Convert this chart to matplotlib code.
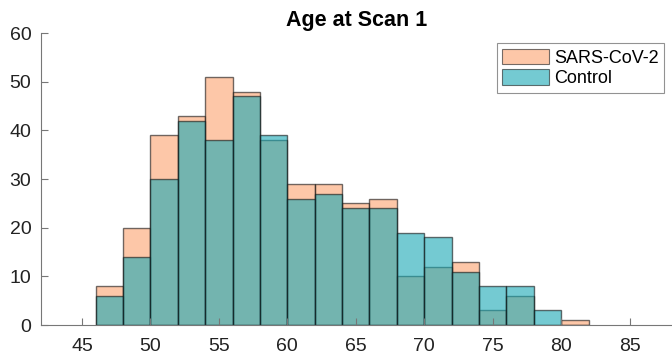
import numpy as np
import matplotlib
matplotlib.use("Agg")
import matplotlib.pyplot as plt
from matplotlib.patches import Patch

bin_edges = np.arange(46, 84, 2)
sars_counts = [8, 20, 39, 43, 51, 48, 38, 29, 29, 25, 26, 10, 12, 13, 3, 6, 0, 1]
control_counts = [6, 14, 30, 42, 38, 47, 39, 26, 27, 24, 24, 19, 18, 11, 8, 8, 3, 0]
labels = ["SARS-CoV-2", "Control"]
xticks = [45, 50, 55, 60, 65, 70, 75, 80, 85]
yticks = [0, 10, 20, 30, 40, 50, 60]

plt.rcParams['font.family'] = ['Liberation Sans', 'DejaVu Sans']

fig = plt.figure(figsize=(6.72, 3.6), dpi=100)
ax = fig.add_axes([0.061, 0.097, 0.939, 0.811])

alpha = 0.6
sars_color = (252/255, 162/255, 110/255)
ctrl_color = (23/255, 168/255, 180/255)

centers = bin_edges[:-1] + 1
ax.hist(centers, bins=bin_edges, weights=sars_counts, color=sars_color, alpha=alpha,
        edgecolor='#111111', linewidth=1.0)
ax.hist(centers, bins=bin_edges, weights=control_counts, color=ctrl_color, alpha=alpha,
        edgecolor='#111111', linewidth=1.0)

ax.set_xlim(42.0, 88.1)
ax.set_ylim(0, 60)
ax.set_xticks(xticks)
ax.set_yticks(yticks)
for s in ['top', 'right']:
    ax.spines[s].set_visible(False)
for s in ['left', 'bottom']:
    ax.spines[s].set_color('#777777')
    ax.spines[s].set_linewidth(0.8)
ax.tick_params(direction='in', length=5, width=0.8, color='#777777',
               labelsize=14, labelcolor='#222222')
ax.tick_params(axis='x', pad=9)
ax.tick_params(axis='y', pad=7)
ax.set_title("Age at Scan 1", fontsize=15.5, fontweight='bold', pad=5)

handles = [Patch(facecolor=sars_color, alpha=alpha, edgecolor='#1a1a1a', linewidth=0.8),
           Patch(facecolor=ctrl_color, alpha=alpha, edgecolor='#1a1a1a', linewidth=0.8)]
leg = ax.legend(handles, labels, loc='upper right', bbox_to_anchor=(0.987, 0.965),
                fontsize=13, frameon=True, fancybox=False, borderpad=0.3,
                handlelength=2.6, handleheight=0.95, handletextpad=0.25, labelspacing=0.15,
                borderaxespad=0)
leg.get_frame().set_edgecolor('#777777')
leg.get_frame().set_linewidth(0.8)

fig.savefig("out.png", dpi=100)
